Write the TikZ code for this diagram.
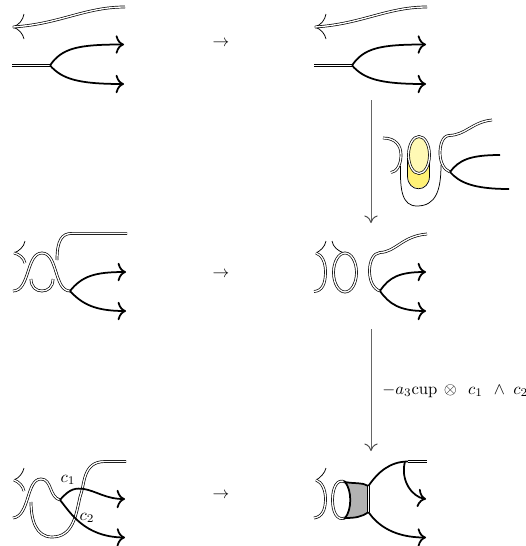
\documentclass[tikz,border=0pt]{standalone}
\usepackage{amsmath,amssymb}
\usepackage{xcolor}
\usetikzlibrary{arrows.meta}
\definecolor{paleyel}{HTML}{FFF9B5}
\definecolor{deepyel}{HTML}{FFF176}
\begin{document}
\begin{tikzpicture}[
  x=0.6pt, y=-0.6pt,
  dbl/.style={draw=black, line width=0.42pt, double=white, double distance=0.8pt},
  fat/.style={draw=black, line width=1.05pt},
  fine/.style={draw=black, line width=0.45pt},
  tip/.style={-{Computer Modern Rightarrow[length=5pt,width=11pt]}},
  down/.style={draw=black!60, line width=0.6pt, -{Computer Modern Rightarrow[length=4.5pt,width=8pt,black!70]}},
  lbl/.style={inner sep=0pt},
]
\useasboundingbox (0,0) rectangle (526,546);

% --- Horizontal steps ---
\node[lbl] (S1) at (221,43)  {$\to$};
\node[lbl] (S2) at (221,274) {$\to$};
\node[lbl] (S3) at (221,495) {$\to$};

% --- Vertical steps ---
\coordinate (T1) at (371,100);
\coordinate (B1) at (371,223);
\coordinate (T2) at (371,329);
\coordinate (B2) at (371,451);
\draw[down] (T1) -- (B1);
\draw[down] (T2) -- (B2);
\node[lbl, anchor=west] (L) at (382,391) {$-a_3\mathrm{cup}\,\otimes\;\, c_1\;\,\wedge\; c_2$};

% Top left
\coordinate (A1) at (13,27);
\coordinate (A0) at (12,65.4);
\coordinate (A2) at (50,65.4);
\draw[fine] (24,14) .. controls (23,20) and (19,25) .. (A1) .. controls (19,29) and (23,34) .. (24,39);
\draw[dbl] (125,7) .. controls (85,7) and (60,24) .. (A1);
\draw[dbl] (A0) -- (A2);
\draw[fat, tip] (A2) .. controls (62,48) and (78,44.5) .. (124,44.5);
\draw[fat, tip] (A2) .. controls (62,79) and (78,84) .. (124,84);

% Top right
\coordinate (C1) at (315,27);
\coordinate (C0) at (314,65.4);
\coordinate (C2) at (352,65.4);
\draw[fine] (326,14) .. controls (325,20) and (321,25) .. (C1) .. controls (321,29) and (325,34) .. (326,39);
\draw[dbl] (427,7) .. controls (387,7) and (362,24) .. (C1);
\draw[dbl] (C0) -- (C2);
\draw[fat, tip] (C2) .. controls (364,48) and (380,44.5) .. (426,44.5);
\draw[fat, tip] (C2) .. controls (364,79) and (380,84) .. (426,84);

% Yellow sketch
\fill[deepyel] (408,155) -- (408,176) .. controls (408,192) and (429,192) .. (429,176) -- (429,155) -- cycle;
\draw[fine] (407.5,158) -- (407.5,176) .. controls (407.5,193) and (429.5,193) .. (429.5,176) -- (429.5,158);
\draw[dbl, fill=paleyel] (419,155) ellipse (10.5 and 18.5);
\draw[fine] (400.5,166) .. controls (400,190) and (402,206) .. (417,206) .. controls (436,206) and (441,190) .. (441,165);
\coordinate (Y1) at (450,172);
\draw[dbl] (383,138) .. controls (396,138) and (401,146) .. (401,155) .. controls (401,164) and (397,172) .. (391,172.5);
\draw[dbl] (492,120) .. controls (472,122) and (466,135) .. (449,135.5) .. controls (442,136) and (440,146) .. (440,153) .. controls (440,162) and (444,170) .. (Y1);
\draw[fat] (Y1) .. controls (459,160) and (470,155) .. (500,155);
\draw[fat] (Y1) .. controls (459,182) and (472,189) .. (509,189);

% Middle left
\coordinate (D1) at (14,253);
\coordinate (D2) at (70,291);
\draw[fine] (25,241) .. controls (24,247) and (19,251) .. (D1);
\draw[dbl] (D1) .. controls (19,254) and (24,258) .. (25,263);
\draw[dbl] (31,279) .. controls (31,287) and (36,291) .. (42,291) .. controls (48,291) and (53,287) .. (53,279);
\draw[dbl] (13,291) .. controls (30,291) and (26,253) .. (42,253) .. controls (58,253) and (54,291) .. (D2);
\draw[dbl] (127,233.4) -- (72,233.4) .. controls (62,233.4) and (57,240) .. (57,260);
\draw[fat, tip] (D2) .. controls (82,276) and (95,272) .. (126,272);
\draw[fat, tip] (D2) .. controls (82,304) and (95,311) .. (126,311);

% Middle right
\coordinate (E1) at (316,253);
\coordinate (E2) at (380,291);
\draw[fine] (326,241) .. controls (325,247) and (320,251) .. (E1);
\draw[dbl] (E1) .. controls (322,255) and (325.5,262) .. (325.5,272) .. controls (325.5,284) and (322,291) .. (314,291.5);
\draw[fine] (332,241) .. controls (333,247) and (338,251) .. (344,253);
\draw[dbl] (345,272.5) ellipse (11.5 and 19.5);
\draw[dbl] (427,234) .. controls (402,236) and (396,252) .. (380,252.5) .. controls (373,253) and (369.5,262) .. (369.5,271) .. controls (369.5,280) and (373,289) .. (E2);
\draw[fat, tip] (E2) .. controls (389,277) and (400,272) .. (426,272);
\draw[fat, tip] (E2) .. controls (389,304) and (400,311) .. (426,311);

% Bottom left
\coordinate (F1) at (14,480);
\coordinate (F2) at (60,500);
\draw[fine] (24,468) .. controls (23,473) and (19,478) .. (F1);
\draw[dbl] (F1) .. controls (19,482) and (23,486) .. (24,491);
\draw[dbl] (126,461.5) -- (105,461.5) .. controls (82,461.5) and (85,485) .. (80,497) .. controls (76,515) and (73,537) .. (52,537) .. controls (36,537) and (31,520) .. (31,502);
\draw[dbl] (13,518) .. controls (30,516) and (26,479) .. (41,479) .. controls (52,479) and (49,497) .. (F2);
\draw[fat, tip] (F2) .. controls (70,488) and (76,488) .. (84,489) .. controls (96,491) and (106,499) .. (125,499);
\draw[fat, tip] (F2) .. controls (70,512) and (84,537) .. (125,537.5);
\node[lbl] (C1L) at (68,480) {$c_1$};
\node[lbl] (C2L) at (87,518) {$c_2$};

% Bottom right
\coordinate (G1) at (316,480);
\coordinate (G2) at (345,482);
\coordinate (G3) at (345,518);
\coordinate (G4) at (368.4,486);
\coordinate (G5) at (368.4,512);
\coordinate (G6) at (408,461.5);
\coordinate (G7) at (427,461.5);
\draw[fine] (326,468) .. controls (325,473) and (320,478) .. (G1);
\draw[dbl] (G1) .. controls (322,482) and (325.5,490) .. (325.5,499) .. controls (325.5,510) and (322,517) .. (314,518);
\draw[dbl] (G2) .. controls (337,478) and (332.5,488) .. (332.5,500) .. controls (332.5,512) and (337,521) .. (G3);
\draw[fat, fill=black!30] (G2) .. controls (355,484) and (362,482) .. (G4)
  -- (G5) .. controls (362,517) and (355,518) .. (G3)
  .. controls (352,510) and (352,490) .. (G2) -- cycle;
\draw[dbl] (G4) -- (G5);
\draw[fat] (G4) .. controls (378,472) and (390,461.5) .. (G6);
\draw[dbl] (G6) -- (G7);
\draw[fat, tip] (405,461.5) .. controls (400,480) and (412,497) .. (426,499);
\draw[fat, tip] (G5) .. controls (378,526) and (395,537.5) .. (426,537.5);
\end{tikzpicture}
\end{document}
